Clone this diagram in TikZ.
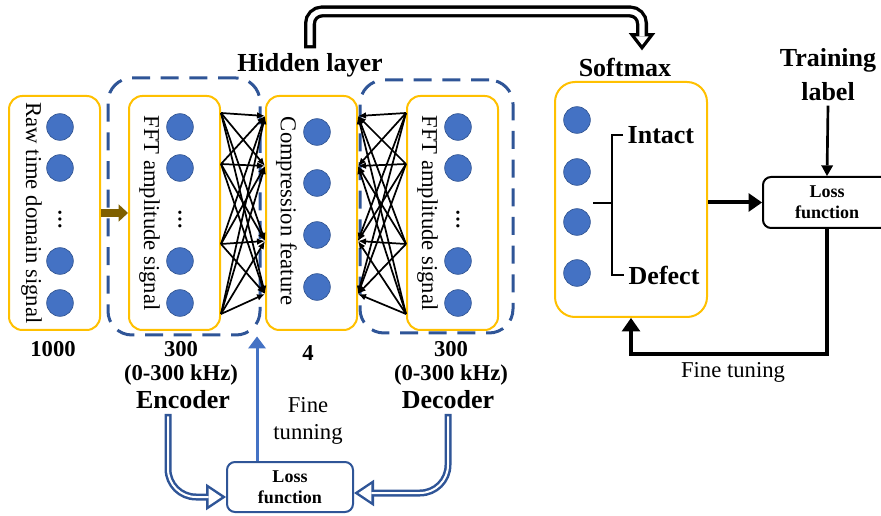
\documentclass[tikz,border=0pt]{standalone}
\usepackage{fontspec}
\setmainfont{Liberation Serif}
\usetikzlibrary{arrows.meta,positioning,calc}
\definecolor{gold}{HTML}{FFC000}
\definecolor{unit}{HTML}{4472C4}
\definecolor{navy}{HTML}{2F5597}
\definecolor{olive}{HTML}{7F6000}
\newcommand{\dblarrow}[3]{\draw[#1] #3; \draw[#2] #3;}
\tikzset{
  >=Latex,
  colbox/.style={draw=gold,line width=1.5pt,rounded corners=10pt,fill=white,minimum width=68.25pt,minimum height=175.5pt},
  grpbox/.style={draw=navy,line width=2.25pt,dash pattern=on 13.5pt off 8pt,rounded corners=18pt,inner sep=0pt},
  neuron/.style={circle,fill=unit,draw=unit!75!black,line width=0.5pt,minimum size=20pt,inner sep=0pt},
  dotsym/.style={rotate=-90,inner sep=0pt,font=\fontsize{15}{15}\selectfont\bfseries},
  lossbox/.style={draw=black,line width=1.5pt,rounded corners=6pt,fill=white,minimum width=96pt,minimum height=38.25pt,align=center,font=\fontsize{13.5}{15.75}\selectfont\bfseries},
  big/.style={font=\fontsize{19.5}{26}\selectfont\bfseries},
  num/.style={font=\fontsize{17}{18}\selectfont\bfseries},
  txt/.style={font=\fontsize{17}{20}\selectfont},
  net/.style={line width=1.3pt,-{Latex[length=6pt,width=5pt]}},
  brownarr/.style={draw=olive,line width=6pt,-{Triangle[length=7pt,width=13pt,line width=0pt]}},
  fat/.style={line width=3pt,-{Triangle[length=10pt,width=14pt,line width=0pt]}},
  thinblk/.style={line width=2pt,-{Triangle[length=8pt,width=9pt,line width=0pt]}},
  upblue/.style={draw=unit,line width=2.25pt,-{Triangle[length=9pt,width=13.5pt,line width=0pt]}},
  brk/.style={line width=1.5pt},
  topout/.style={line width=9pt,rounded corners=9pt,shorten >=2pt,-{Triangle[length=13pt,width=20pt,line width=0pt]}},
  topin/.style={draw=white,line width=4pt,rounded corners=9pt,shorten >=6.1pt,shorten <=2.5pt,-{Triangle[length=6.4pt,width=9.8pt,line width=0pt]}},
  navyout/.style={draw=navy,line width=5.25pt,rounded corners=21pt,-{Triangle[length=15pt,width=20pt,line width=0pt]}},
  navyin/.style={draw=white,line width=1.5pt,rounded corners=21pt,shorten >=3.4pt,shorten <=1.9pt,-{Triangle[length=9.7pt,width=13pt,line width=0pt]}},
}
\begin{document}
\begin{tikzpicture}[x=0.75pt,y=-0.75pt]
\useasboundingbox (0,0) rectangle (881,516);

% encoder / decoder groups
\node[grpbox,minimum width=114pt,minimum height=192.75pt] (encgrp) at (184,206.5) {};
\node[grpbox,minimum width=114.75pt,minimum height=189.75pt] (decgrp) at (436.5,206.5) {};

% layer columns
\node[colbox] (raw) at (54.5,213) {};
\node[colbox,right=20.25pt of raw] (enc) {};
\node[colbox,right=33pt of enc] (cmp) {};
\node[colbox,right=36pt of cmp] (dec) {};
\node[txt,rotate=-90] (rawtxt) at ($(raw)+(-23,0)$) {Raw time domain signal};
\node[txt,rotate=-90] (enctxt) at ($(enc)+(-25,0)$) {FFT amplitude signal};
\node[txt,rotate=-90] (cmptxt) at ($(cmp)+(-25,-2)$) {Compression feature};
\node[txt,rotate=-90] (dectxt) at ($(dec)+(-25,0)$) {FFT amplitude signal};
\foreach \c in {raw,enc,dec} {
  \foreach \dy [count=\i] in {-86,-45,48,90} \node[neuron] (\c\i) at ($(\c)+(5.5,\dy)$) {};
  \node[dotsym] (dots\c) at ($(\c)+(5.5,7)$) {…};
}
\foreach \dy [count=\i] in {-81,-30,22,74} \node[neuron] (cmp\i) at ($(cmp)+(5.5,\dy)$) {};

% full connections
\foreach \a in {75,36.75,-23.25,-75.75} \foreach \b in {72.75,35.25,-21,-60.75} {
  \draw[net] ([yshift=\a pt]enc.east) -- ([yshift=\b pt]cmp.west);
  \draw[net] ([yshift=\a pt]dec.west) -- ([yshift=\b pt]cmp.east);
}
\draw[brownarr] (raw.east) -- (enc.west);

% labels
\node[big] (hid) at (310,65) {Hidden layer};
\node[num] (n1000) at (53,349) {1000};
\node[num,align=center] (encnum) at (181,363) {300\\(0-300 kHz)};
\node[big] (encname) at (183,400) {Encoder};
\node[num] (n4) at (308,353) {4};
\node[num,align=center] (decnum) at (451,363) {300\\(0-300 kHz)};
\node[big] (decname) at (448,400) {Decoder};
\node[txt,align=center] (ft1) at (308,421) {Fine\\tunning};

% softmax and loss
\node[draw=gold,line width=1.5pt,fill=white,rounded corners=15pt,minimum width=114pt,minimum height=176.25pt] (sbox) at (631,199.5) {};
\node[big] (smx) at (625,67) {Softmax};
\foreach \dy [count=\i] in {-79.5,-27.5,22.5,73.5} \node[neuron] (out\i) at ($(sbox)+(-54,\dy)$) {};
\node[big,anchor=west] (intact) at (623,135) {Intact};
\node[big,anchor=west] (defect) at (624,275) {Defect};
\draw[brk] (intact.west) -- ++(-11,0) |- (defect.west);
\draw[brk] ($(sbox)+(-38,3.5)$) -- ++(19,0);
\node[lossbox] (lossR) at (827,202.5) {Loss\\function};
\node[big,align=center] (trn) at (828,74.5) {Training\\label};
\node[lossbox,draw=navy,minimum width=94.5pt,minimum height=37.5pt] (lossB) at (290,487) {Loss\\function};
\node[txt] (ft2) at (733,372) {Fine tuning};

% connectors
\draw[fat] (lossR.west -| sbox.east) -- (lossR.west);
\draw[thinblk] (trn.south) -- (lossR.north);
\draw[fat] (lossR.south) -- ++(0,125) -| (sbox.south);
\coordinate (fb) at ([xshift=-24.75pt]lossB.north);
\draw[upblue] (fb) -- (fb |- encgrp.south);
\dblarrow{topout}{topin}{(hid.north) -- ++(0,-37) -| ([xshift=12.75pt]smx.north)}
\dblarrow{navyout}{navyin}{([xshift=-11.25pt]encname.south) |- ([yshift=-7.5pt]lossB.west)}
\dblarrow{navyout}{navyin}{(decname.south) |- ([yshift=-4.5pt]lossB.east)}

\end{tikzpicture}
\end{document}
